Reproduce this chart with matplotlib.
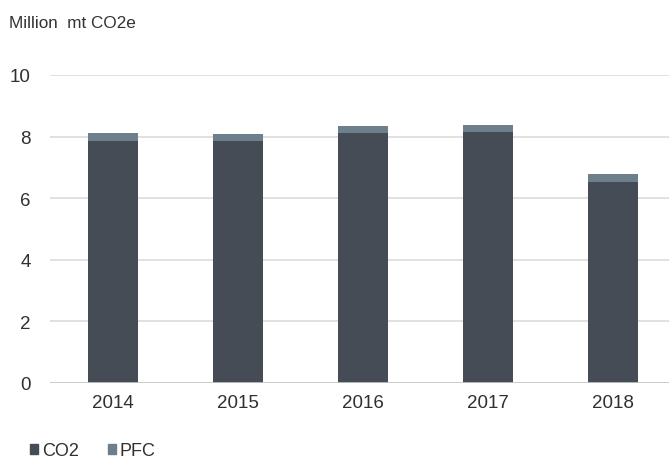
import numpy as np
import matplotlib.pyplot as plt
from matplotlib.patches import Patch

plt.rcParams['font.family'] = ['Liberation Sans', 'DejaVu Sans']

# emissions by year, million metric tons CO2e
years = ['2014', '2015', '2016', '2017', '2018']
co2 = [7.86, 7.86, 8.12, 8.15, 6.53]
pfc = [0.26, 0.22, 0.22, 0.23, 0.26]

c_co2 = '#464c56'
c_pfc = '#6d7e8c'

fig = plt.figure(figsize=(6.69, 4.60), dpi=100)
ax = fig.add_axes([50 / 669, 1 - 384 / 460, 625 / 669, 308 / 460])

x = np.arange(len(years))
ax.bar(x, co2, width=0.4, color=c_co2, zorder=3)
ax.bar(x, pfc, width=0.4, bottom=co2, color=c_pfc, zorder=3)

ax.set_xlim(-0.5, 4.5)
ax.set_ylim(0, 10)
ax.set_yticks(range(0, 11, 2))
ax.set_xticks(x)
ax.set_xticklabels(years)
ax.yaxis.grid(True, color='#dcdcdc', linewidth=1.2, zorder=0)
ax.axhline(0, color='#c8c8c8', linewidth=1.2, zorder=4)
for s in ax.spines.values():
    s.set_visible(False)
ax.tick_params(length=0, labelsize=13.5, labelcolor='#303030')
ax.tick_params(axis='y', pad=14)
ax.tick_params(axis='x', pad=8)

fig.text(9 / 669, 1 - 24 / 460, 'Million  mt CO2e', fontsize=12.3, color='#333333',
         va='center', ha='left')

handles = [Patch(color=c_co2, label='CO2'), Patch(color=c_pfc, label='PFC')]
fig.legend(handles=handles, loc='center left', bbox_to_anchor=(14 / 669, 1 - 452 / 460),
           ncol=2, frameon=False, fontsize=13, handlelength=0.45, handleheight=0.45,
           handletextpad=0.2, columnspacing=1.6, labelcolor='#303030')

fig.savefig('out.png', dpi=100)
